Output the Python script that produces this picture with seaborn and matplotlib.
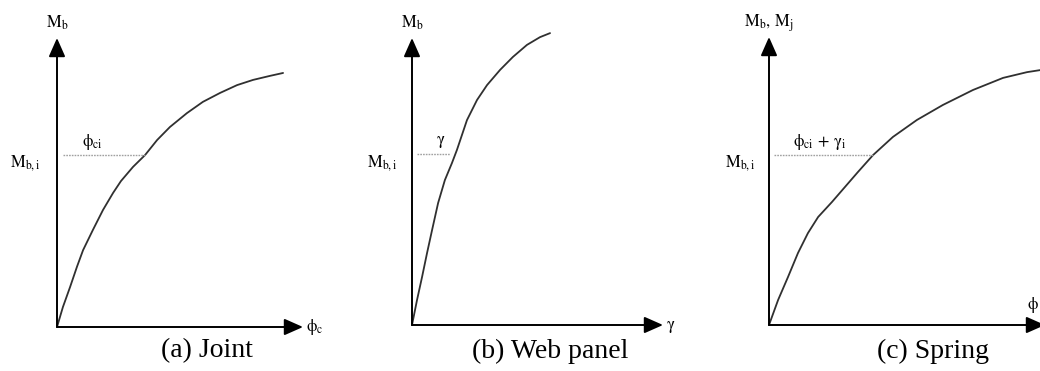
import matplotlib
matplotlib.use("Agg")
import matplotlib.pyplot as plt
import seaborn as sns

# ---- data (normalized: rotation on x, moment on y) ----
joint_rot = [0.0, 0.024, 0.053, 0.081, 0.106, 0.146, 0.187, 0.228, 0.260, 0.309,
             0.358, 0.407, 0.459, 0.528, 0.593, 0.663, 0.732, 0.797, 0.866, 0.919]
joint_mom = [0.0, 0.069, 0.138, 0.208, 0.266, 0.336, 0.405, 0.464, 0.505, 0.554,
             0.595, 0.647, 0.692, 0.740, 0.779, 0.810, 0.837, 0.855, 0.869, 0.879]

web_rot = [0.0, 0.020, 0.040, 0.060, 0.080, 0.104, 0.131, 0.159, 0.179, 0.219,
           0.259, 0.299, 0.351, 0.402, 0.458, 0.510, 0.550]
web_mom = [0.0, 0.087, 0.167, 0.251, 0.331, 0.425, 0.505, 0.564, 0.610, 0.714,
           0.784, 0.836, 0.889, 0.934, 0.976, 1.003, 1.017]

spring_rot = [0.0, 0.033, 0.069, 0.105, 0.141, 0.178, 0.228, 0.275, 0.322, 0.377,
              0.449, 0.536, 0.630, 0.739, 0.848, 0.935, 0.982]
spring_mom = [0.0, 0.087, 0.167, 0.250, 0.319, 0.375, 0.427, 0.479, 0.531, 0.590,
              0.653, 0.712, 0.764, 0.816, 0.858, 0.878, 0.885]

mbi_level = [0.595, 0.596, 0.590]
dash_start = [0.024, 0.020, 0.018]
dash_end = [0.358, 0.151, 0.377]

y_labels = [r"$\mathrm{M_b}$", r"$\mathrm{M_b}$", r"$\mathrm{M_b,\,M_j}$"]
x_labels = [r"$\mathrm{\phi_c}$", r"$\mathrm{\gamma}$", r"$\mathrm{\phi}$"]
mark_labels = [r"$\mathrm{\phi_{ci}}$", r"$\mathrm{\gamma}$", r"$\mathrm{\phi_{ci}\,+\,\gamma_i}$"]
mbi_label = r"$\mathrm{M_{b,i}}$"
captions = ["(a) Joint", "(b) Web panel", "(c) Spring"]

sns.set_theme(style="white")
plt.rcParams["font.family"] = ["Liberation Serif", "DejaVu Serif"]
plt.rcParams["mathtext.fontset"] = "stix"
plt.rcParams["text.color"] = "black"

W, H = 1040, 371
fig = plt.figure(figsize=(W / 100, H / 100), dpi=100)

# axes boxes in pixels: (origin_x, origin_y, right_px, top_px)
boxes = [(57, 327, 303, 38), (412, 325, 663, 38), (769, 325, 1045, 37)]
caption_x = [207, 550, 933]
mark_pos = [(92, 142), (441, 142), (820, 142)]
mbi_right = [40, 397, 755]
curves = [(joint_rot, joint_mom), (web_rot, web_mom), (spring_rot, spring_mom)]
LABEL_FS = 12

arrow_kw = dict(arrowstyle="-|>,head_length=0.95,head_width=0.42",
                color="black", lw=1.4, shrinkA=0, shrinkB=0)

for i, (ox, oy, rx, ty) in enumerate(boxes):
    ax = fig.add_axes([ox / W, 1 - oy / H, (rx - ox) / W, (oy - ty) / H])
    ax.set_xlim(0, 1)
    ax.set_ylim(0, 1)
    ax.axis("off")
    ax.annotate("", xy=(0, 1), xytext=(0, 0), xycoords="data",
                arrowprops=arrow_kw, annotation_clip=False)
    ax.annotate("", xy=(1, 0), xytext=(0, 0), xycoords="data",
                arrowprops=arrow_kw, annotation_clip=False)
    x, y = curves[i]
    sns.lineplot(x=x, y=y, ax=ax, color="#303030", lw=1.3, sort=False,
                 estimator=None)
    for ln in ax.lines:
        ln.set_clip_on(False)
        ln.set_solid_joinstyle("round")
    ax.plot([dash_start[i], dash_end[i]], [mbi_level[i], mbi_level[i]],
            color="#a0a0a0", lw=1.0, ls=(0, (1.2, 0.8)), clip_on=False)

    # labels (pixel positions converted to figure fractions)
    fig.text(ox / W, 1 - 23 / H, y_labels[i], ha="center", va="center",
             fontsize=LABEL_FS)
    fig.text(mbi_right[i] / W, 1 - 163 / H, mbi_label, ha="right", va="center",
             fontsize=LABEL_FS)
    mx, my = mark_pos[i]
    fig.text(mx / W, 1 - my / H, mark_labels[i], ha="center", va="center",
             fontsize=LABEL_FS)

# x axis end labels
fig.text(306 / W, 1 - 327 / H, x_labels[0], ha="left", va="center", fontsize=LABEL_FS)
fig.text(666 / W, 1 - 327 / H, x_labels[1], ha="left", va="center", fontsize=LABEL_FS)
fig.text(1027 / W, 1 - 305 / H, x_labels[2], ha="left", va="center", fontsize=LABEL_FS)

for cx, cap in zip(caption_x, captions):
    fig.text(cx / W, 1 - 351 / H, cap, ha="center", va="center", fontsize=20)

fig.savefig("out.png", dpi=100, facecolor="white")
